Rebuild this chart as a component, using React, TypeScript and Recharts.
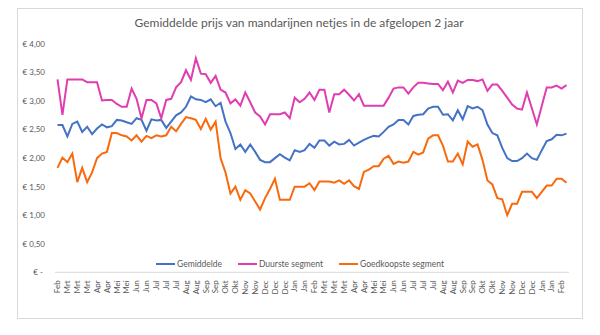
import { LineChart, Line, XAxis, YAxis, Legend } from "recharts";

document.body.style.margin = "0";

// one label for every second week, as the axis shows them
const tickLabels = [
  "Feb", "Mrt", "Mrt", "Mrt", "Apr", "Apr", "Mei", "Mei", "Jun", "Jun", "Jul", "Jul", "Jul",
  "Aug", "Aug", "Sep", "Sep", "Okt", "Okt", "Nov", "Nov", "Dec", "Dec", "Dec", "Jan", "Jan",
  "Feb", "Mrt", "Mrt", "Mrt", "Apr", "Apr", "Mei", "Mei", "Jun", "Jun", "Jul", "Jul", "Jul",
  "Aug", "Aug", "Sep", "Sep", "Okt", "Okt", "Nov", "Nov", "Dec", "Dec", "Jan", "Jan", "Feb",
];

const yTicks = [0, 0.5, 1, 1.5, 2, 2.5, 3, 3.5, 4];

const gemiddelde = [
  2.58, 2.58, 2.38, 2.6, 2.64, 2.46, 2.55, 2.42, 2.52, 2.59, 2.54, 2.56, 2.67, 2.66, 2.63, 2.6,
  2.7, 2.67, 2.48, 2.68, 2.66, 2.67, 2.53, 2.64, 2.75, 2.8, 2.9, 3.08, 3.03, 3.02, 2.98, 3.03,
  2.91, 2.97, 2.64, 2.44, 2.16, 2.24, 2.11, 2.24, 2.11, 1.97, 1.93, 1.93, 2.0, 2.07, 2.01, 1.96,
  2.14, 2.11, 2.14, 2.25, 2.18, 2.31, 2.31, 2.22, 2.29, 2.24, 2.25, 2.32, 2.22, 2.27, 2.32, 2.36,
  2.39, 2.38, 2.46, 2.55, 2.59, 2.67, 2.67, 2.59, 2.74, 2.76, 2.77, 2.87, 2.9, 2.9, 2.76, 2.77,
  2.66, 2.84, 2.68, 2.91, 2.87, 2.9, 2.84, 2.59, 2.44, 2.4, 2.18, 2.0, 1.95, 1.95, 2.0, 2.08,
  2.0, 1.97, 2.14, 2.3, 2.33, 2.41, 2.4, 2.43,
];

const duurste = [
  3.38, 2.76, 3.38, 3.38, 3.38, 3.38, 3.33, 3.33, 3.33, 3.01, 3.02, 3.02, 2.95, 2.9, 2.9, 3.22,
  3.04, 2.7, 3.02, 3.02, 2.96, 2.7, 3.02, 3.04, 3.24, 3.33, 3.54, 3.37, 3.75, 3.48, 3.47, 3.32,
  3.44, 3.2, 3.15, 2.96, 3.03, 2.92, 3.15, 2.98, 2.8, 2.73, 2.59, 2.77, 2.77, 2.77, 2.8, 2.7,
  3.06, 2.98, 3.04, 3.15, 3.02, 3.2, 3.2, 2.8, 3.12, 3.12, 3.2, 3.11, 3.01, 3.12, 2.92, 2.92,
  2.92, 2.92, 2.92, 3.06, 3.22, 3.24, 3.24, 3.13, 3.24, 3.32, 3.32, 3.31, 3.3, 3.3, 3.19, 3.34,
  3.15, 3.36, 3.32, 3.37, 3.37, 3.35, 3.38, 3.18, 3.29, 3.29, 3.18, 3.06, 2.94, 2.87, 2.85, 3.15,
  2.87, 2.59, 2.92, 3.24, 3.24, 3.27, 3.22, 3.28,
];

const goedkoopste = [
  1.83, 2.01, 1.93, 2.08, 1.58, 1.83, 1.58, 1.75, 2.0, 2.08, 2.11, 2.44, 2.44, 2.4, 2.38, 2.31,
  2.4, 2.29, 2.39, 2.35, 2.4, 2.38, 2.4, 2.55, 2.47, 2.6, 2.72, 2.7, 2.67, 2.51, 2.69, 2.5,
  2.64, 2.0, 1.75, 1.38, 1.5, 1.27, 1.44, 1.38, 1.24, 1.1, 1.3, 1.46, 1.64, 1.27, 1.27, 1.27,
  1.5, 1.5, 1.5, 1.56, 1.44, 1.59, 1.59, 1.59, 1.57, 1.61, 1.55, 1.61, 1.51, 1.46, 1.76, 1.8,
  1.86, 1.86, 1.99, 2.04, 1.9, 1.94, 1.92, 1.94, 2.11, 2.06, 2.1, 2.34, 2.4, 2.4, 2.22, 1.94,
  1.94, 2.08, 1.89, 2.29, 2.2, 2.24, 1.97, 1.61, 1.54, 1.3, 1.28, 1.0, 1.2, 1.2, 1.41, 1.41,
  1.41, 1.3, 1.41, 1.52, 1.52, 1.64, 1.64, 1.57,
];

const data = gemiddelde.map((g, i) => ({
  week: i,
  gemiddelde: g,
  duurste: duurste[i],
  goedkoopste: goedkoopste[i],
}));

const series = [
  { key: "gemiddelde", name: "Gemiddelde", color: "#4472C4" },
  { key: "duurste", name: "Duurste segment", color: "#E03DB0" },
  { key: "goedkoopste", name: "Goedkoopste segment", color: "#F96A0E" },
];

const FONT = "Lato, 'Open Sans', sans-serif";
const TEXT = "#595959";

function formatEuro(v: number) {
  if (v === 0) return "€ -\u00a0";
  return "€ " + v.toFixed(2).replace(".", ",");
}

function WeekTick({ x, y, payload }: any) {
  const label = tickLabels[Math.round(payload.value / 2)] ?? "";
  return (
    <text
      x={x}
      y={y}
      transform={`rotate(-90, ${x}, ${y})`}
      textAnchor="end"
      dy="0.35em"
      fontSize={8}
      fontFamily={FONT}
      fill={TEXT}
    >
      {label}
    </text>
  );
}

function LegendContent() {
  return (
    <div style={{ display: "flex", justifyContent: "center", gap: 16, fontFamily: FONT, fontSize: 8.5, color: TEXT }}>
      {series.map((s) => (
        <div key={s.key} style={{ display: "flex", alignItems: "center" }}>
          <span style={{ display: "inline-block", width: 19, height: 2, background: s.color, marginRight: 2 }} />
          {s.name}
        </div>
      ))}
    </div>
  );
}

export default function App() {
  return (
    <div style={{ position: "relative", width: 600, height: 335, background: "#fff" }}>
      <div
        style={{
          position: "absolute",
          left: 17,
          top: 8,
          width: 564,
          height: 309,
          border: "1px solid #d9d9d9",
        }}
      />
      <div
        style={{
          position: "absolute",
          left: 0,
          top: 15,
          width: 598,
          textAlign: "center",
          fontFamily: FONT,
          fontSize: 12,
          color: TEXT,
        }}
      >
        Gemiddelde prijs van mandarijnen netjes in de afgelopen 2 jaar
      </div>
      <div style={{ position: "absolute", left: 0, top: 0 }}>
        <LineChart
          width={600}
          height={335}
          data={data}
          margin={{ top: 44, right: 31, left: 0, bottom: 12.7 }}
        >
          <XAxis
            dataKey="week"
            interval={1}
            height={40}
            padding={{ left: 2.5, right: 2.5 }}
            axisLine={{ stroke: "#d9d9d9" }}
            tickLine={false}
            tick={<WeekTick />}
          />
          <YAxis
            domain={[0, 4]}
            ticks={yTicks}
            width={55}
            axisLine={false}
            tickLine={false}
            tickSize={0}
            tickMargin={10}
            tickFormatter={formatEuro}
            tick={{ fontSize: 8, fill: TEXT, fontFamily: FONT }}
          />
          <Legend content={<LegendContent />} wrapperStyle={{ top: 259, left: 0, width: 600 }} />
          {series.map((s) => (
            <Line
              key={s.key}
              type="linear"
              dataKey={s.key}
              name={s.name}
              stroke={s.color}
              strokeWidth={2}
              dot={false}
              isAnimationActive={false}
            />
          ))}
        </LineChart>
      </div>
    </div>
  );
}
